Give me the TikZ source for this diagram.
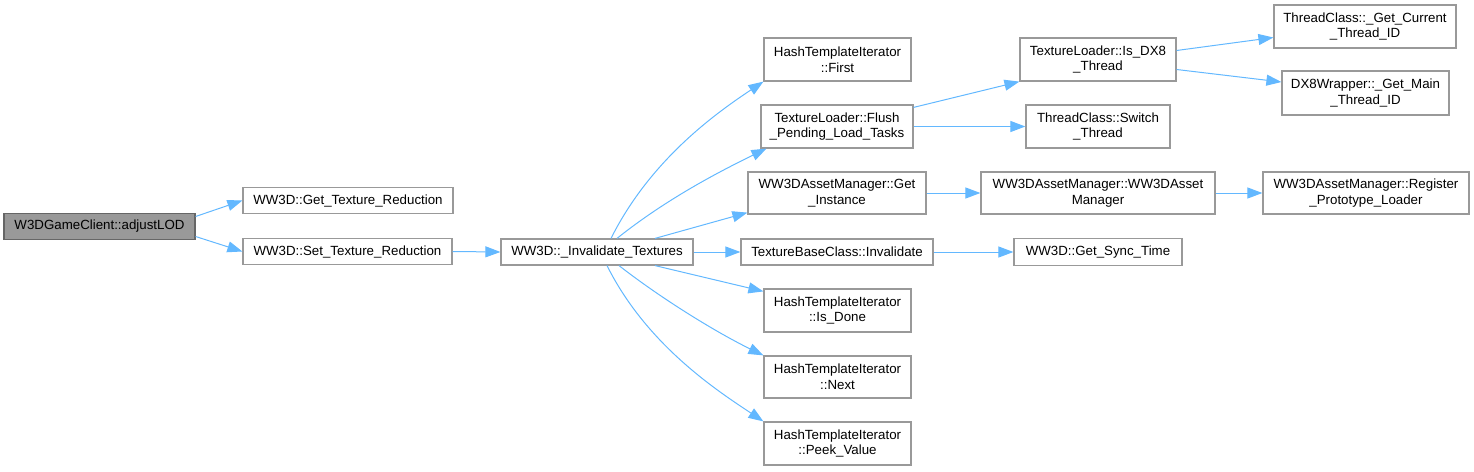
\documentclass[tikz,border=0pt]{standalone}
\usepackage{fontspec}
\setmainfont{Liberation Sans}
\usetikzlibrary{arrows.meta,positioning}

\definecolor{edgeblue}{HTML}{63B8FF}
\definecolor{boxgray}{HTML}{999999}
\definecolor{rootline}{HTML}{666666}

\begin{document}
\begin{tikzpicture}[
    x=1pt, y=-1pt,
    % --- Styles ---
    fn/.style={draw=boxgray, line width=1.2pt, fill=white, inner sep=0pt,
               align=center, font=\fontsize{13.3pt}{15.6pt}\selectfont},
    oneline/.style={fn, minimum height=26pt},
    twoline/.style={fn, minimum height=43pt},
    rootfn/.style={oneline, fill=boxgray, draw=rootline},
    call/.style={-{Triangle[length=15pt,width=11pt]}, draw=edgeblue, line width=1pt},
]
\useasboundingbox (0,0) rectangle (1474,471);

% === Caller and first level ===
\node[rootfn, minimum width=191pt] (root) at (99.5,226.5) {W3DGameClient::adjustLOD};
\node[oneline, minimum width=210pt] (getred) at (348,200.5) {WW3D::Get\_Texture\_Reduction};
\node[oneline, minimum width=209pt] (setred) at (347.5,251.5) {WW3D::Set\_Texture\_Reduction};
\node[oneline, minimum width=192pt] (invtex) at (597,252) {WW3D::\_Invalidate\_Textures};

% === Callees of _Invalidate_Textures ===
\node[twoline, minimum width=147pt] (first) at (837.5,59.5) {HashTemplateIterator\\::First};
\node[twoline, minimum width=152pt] (flush) at (837,126.5) {TextureLoader::Flush\\\_Pending\_Load\_Tasks};
\node[twoline, minimum width=178pt, minimum height=42pt] (getinst) at (837,193) {WW3DAssetManager::Get\\\_Instance};
\node[oneline, minimum width=192pt] (tbinval) at (837,252) {TextureBaseClass::Invalidate};
\node[twoline, minimum width=147pt] (isdone) at (837.5,310.5) {HashTemplateIterator\\::Is\_Done};
\node[twoline, minimum width=147pt, minimum height=42pt] (next) at (837.5,377) {HashTemplateIterator\\::Next};
\node[twoline, minimum width=147pt] (peek) at (837.5,443.5) {HashTemplateIterator\\::Peek\_Value};

% === Third level ===
\node[twoline, minimum width=156pt] (isdx8) at (1098,59.5) {TextureLoader::Is\_DX8\\\_Thread};
\node[twoline, minimum width=144pt] (switch) at (1098,126.5) {ThreadClass::Switch\\\_Thread};
\node[twoline, minimum width=234pt, minimum height=42pt] (amctor) at (1098,193) {WW3DAssetManager::WW3DAsset\\Manager};
\node[oneline, minimum width=168pt, minimum height=27pt] (synctime) at (1098,252) {WW3D::Get\_Sync\_Time};

% === Fourth level ===
\node[twoline, minimum width=182pt] (curid) at (1365,26.5) {ThreadClass::\_Get\_Current\\\_Thread\_ID};
\node[twoline, minimum width=167pt, minimum height=44pt] (mainid) at (1365.5,93) {DX8Wrapper::\_Get\_Main\\\_Thread\_ID};
\node[twoline, minimum width=206pt, minimum height=42pt] (register) at (1366,193) {WW3DAssetManager::Register\\\_Prototype\_Loader};

% === Calls ===
\draw[call] ([yshift=10pt]root.east) -- (getred.west);
\draw[call] ([yshift=-10pt]root.east) -- (setred.west);
\draw[call] (setred.east) -- (invtex.west);

\draw[call] ([xshift=14pt]invtex.north) .. controls +(40,-80) and +(-45,30) .. (first.south west);
\draw[call] ([xshift=20pt]invtex.north) .. controls +(50,-40) and +(-45,22) .. ([xshift=6pt]flush.south west);
\draw[call] ([xshift=58pt]invtex.north) -- ([yshift=2pt]getinst.south west);
\draw[call] (invtex.east) -- (tbinval.west);
\draw[call] ([xshift=58pt]invtex.south) -- ([yshift=-3pt]isdone.north west);
\draw[call] ([xshift=22pt]invtex.south) .. controls +(45,35) and +(-45,-22) .. (next.north west);
\draw[call] ([xshift=10pt]invtex.south) .. controls +(40,80) and +(-45,-30) .. (peek.north west);

\draw[call] ([yshift=-3pt]flush.north east) -- (isdx8.south west);
\draw[call] (flush.east) -- (switch.west);
\draw[call] (getinst.east) -- (amctor.west);
\draw[call] (tbinval.east) -- (synctime.west);

\draw[call] ([yshift=9pt]isdx8.east) -- ([yshift=-11pt]curid.west);
\draw[call] ([yshift=-10pt]isdx8.east) -- ([yshift=11pt]mainid.west);
\draw[call] (amctor.east) -- (register.west);

\end{tikzpicture}
\end{document}
